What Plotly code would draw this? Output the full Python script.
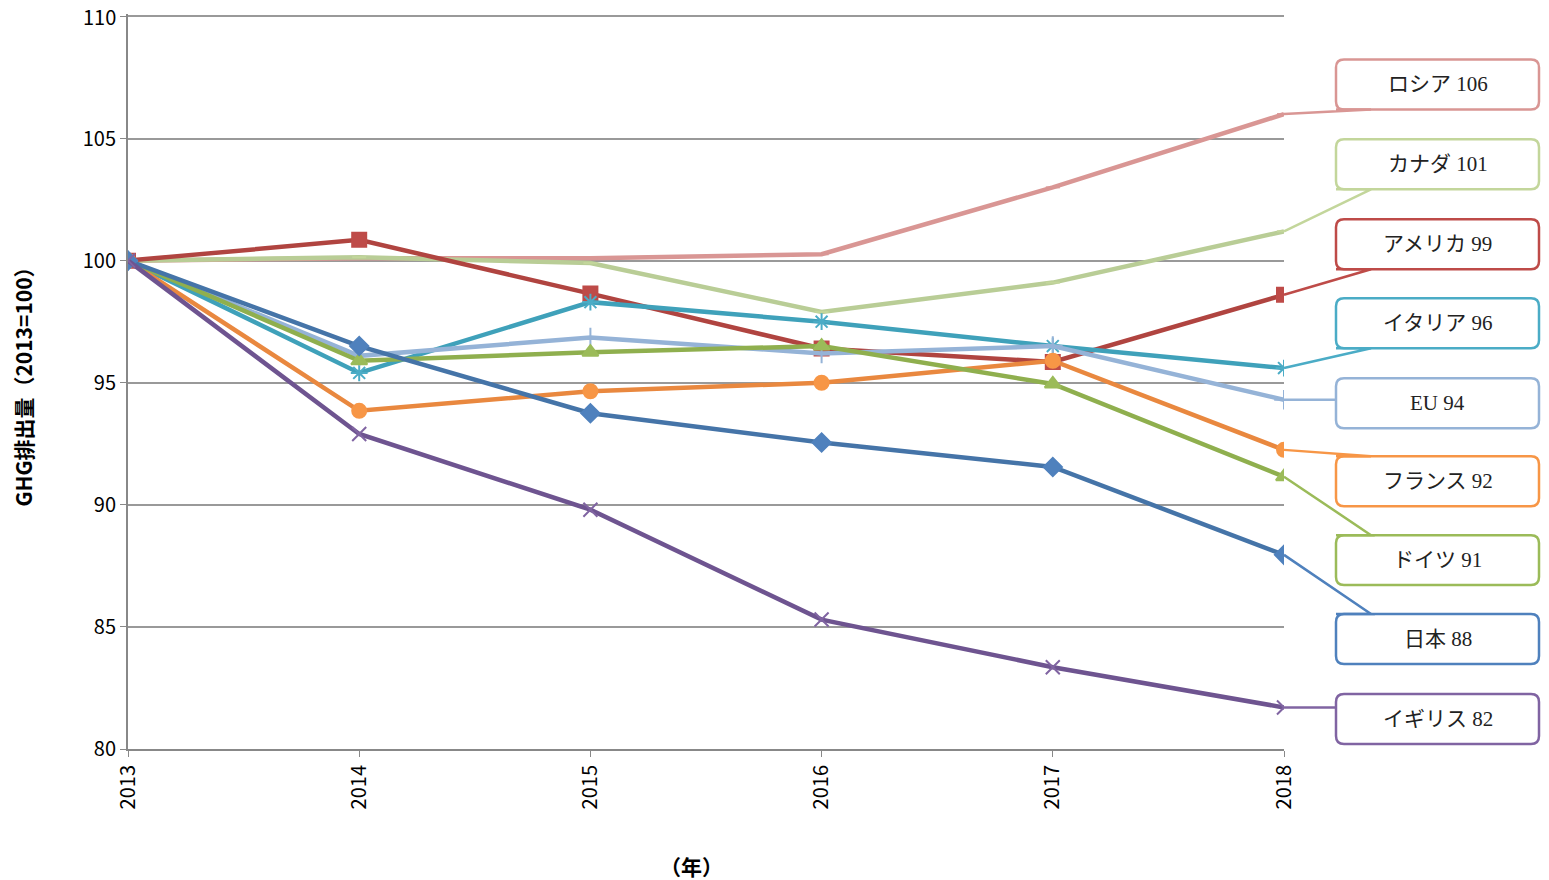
import plotly.graph_objects as go

years = [2013, 2014, 2015, 2016, 2017, 2018]
year_labels = ["2013", "2014", "2015", "2016", "2017", "2018"]
y_ticks = [80, 85, 90, 95, 100, 105, 110]

russia = [100, 100.1, 100.1, 100.26, 103.0, 106.0]
canada = [100, 100.14, 99.9, 97.9, 99.1, 101.2]
usa = [100, 100.85, 98.65, 96.4, 95.85, 98.6]
italy = [100, 95.4, 98.3, 97.5, 96.5, 95.6]
eu = [100, 96.1, 96.85, 96.2, 96.5, 94.3]
france = [100, 93.85, 94.65, 95.0, 95.9, 92.25]
germany = [100, 95.9, 96.25, 96.5, 94.95, 91.15]
japan = [100, 96.5, 93.75, 92.55, 91.55, 87.95]
uk = [100, 92.9, 89.8, 85.3, 83.35, 81.7]

labels = ["ロシア 106", "カナダ 101", "アメリカ 99", "イタリア 96", "EU 94",
          "フランス 92", "ドイツ 91", "日本 88", "イギリス 82"]

series = [
    (russia, "#D99694", "#D99694", "line-ew"),
    (canada, "#B9CD96", "#C3D69B", "line-ew"),
    (usa, "#B04440", "#BE4B48", "square"),
    (italy, "#3FA1BA", "#4BACC6", "asterisk-open"),
    (eu, "#95B3D7", "#95B3D7", "cross-thin-open"),
    (france, "#E9883F", "#F79646", "circle"),
    (germany, "#8FAF4E", "#9BBB59", "triangle-up"),
    (japan, "#4574A8", "#4F81BD", "diamond"),
    (uk, "#6E5490", "#8064A2", "x-thin-open"),
]

W, H = 1549, 880
OFF = 7  # page body margin compensation
YTOP = 110.1
L, R, B = 127, 1283, 748
PPU = (748 - 15) / 30.0
T = 15 - (YTOP - 110) * PPU

def px(x):
    return (x - L) / (R - L)

def py(y):
    return (B - y) / (B - T)

fig = go.Figure()
for (vals, lc, mc, sym), name in zip(series, labels):
    fig.add_trace(go.Scatter(
        x=years, y=vals, mode="lines+markers", name=name,
        line=dict(color=lc, width=4.5),
        marker=dict(symbol=sym, size=14 if sym != "line-ew" else 10,
                    color=mc, line=dict(color=mc, width=2)),
    ))

box_centers = [83, 163, 243, 322, 402, 480, 559, 638, 718]
bx0, bx1, bh, rr = 1335, 1538, 50, 8
for (vals, lc, mc, sym), name, cy in zip(series, labels, box_centers):
    top, bot = cy - bh / 2, cy + bh / 2
    pts = (f"M {px(bx0+rr)},{py(top)} L {px(bx1-rr)},{py(top)} "
           f"Q {px(bx1)},{py(top)} {px(bx1)},{py(top+rr)} L {px(bx1)},{py(bot-rr)} "
           f"Q {px(bx1)},{py(bot)} {px(bx1-rr)},{py(bot)} L {px(bx0+rr)},{py(bot)} "
           f"Q {px(bx0)},{py(bot)} {px(bx0)},{py(bot-rr)} L {px(bx0)},{py(top+rr)} "
           f"Q {px(bx0)},{py(top)} {px(bx0+rr)},{py(top)} Z")
    fig.add_shape(type="path", path=pts, xref="paper", yref="paper",
                  line=dict(color=mc, width=2.5), fillcolor="white")
    ypt = B - (vals[-1] - 80) * PPU
    if ypt > bot:
        kx, ky = 1370, bot
    elif ypt < top:
        kx, ky = 1370, top
    else:
        kx, ky = bx0, ypt
    fig.add_shape(type="path", xref="paper", yref="paper",
                  path=f"M {px(R)},{py(ypt)} L {px(kx)},{py(ky)} L {px(bx0)},{py(ky)}",
                  line=dict(color=mc, width=2.5))
    fig.add_annotation(x=px((bx0 + bx1) / 2), y=py(cy), xref="paper", yref="paper",
                       xanchor="center", yanchor="middle",
                       text=name, showarrow=False,
                       font=dict(family="Liberation Serif, Noto Sans CJK JP", size=21, color="#222"))

# top tick label (plotly drops the one at the range edge)
fig.add_annotation(x=0, y=y_ticks[-1], xref="paper", yref="y", text=str(y_ticks[-1]),
                   xanchor="right", yanchor="middle", xshift=-10, showarrow=False,
                   font=dict(size=20, color="#000"))

fig.add_annotation(x=px(690), y=py(865), xref="paper", yref="paper", text="<b>（年）</b>",
                   xanchor="center", yanchor="middle",
                   showarrow=False, font=dict(size=21, color="#000"))

fig.update_layout(
    width=W, height=H,
    margin=dict(l=L - OFF, r=W - R + OFF, t=T - OFF, b=H - B + OFF),
    plot_bgcolor="white", paper_bgcolor="white",
    showlegend=False,
    font=dict(family="Noto Sans CJK JP, Liberation Sans", size=20, color="#000"),
)
fig.update_xaxes(range=[2013, 2018], tickvals=years, ticktext=year_labels, tickangle=-90,
                 showgrid=False, showline=True, linecolor="#888", linewidth=2,
                 ticks="outside", tickcolor="#888", ticklen=6)
fig.update_yaxes(range=[80, YTOP], tickvals=y_ticks, showgrid=True, gridcolor="#999", gridwidth=2,
                 showline=True, linecolor="#888", linewidth=2, zeroline=False,
                 ticks="outside", tickcolor="#888", ticklen=6,
                 title=dict(text="<b>GHG排出量（2013=100）</b>", font=dict(size=21), standoff=45))

fig.write_html("out.html")
